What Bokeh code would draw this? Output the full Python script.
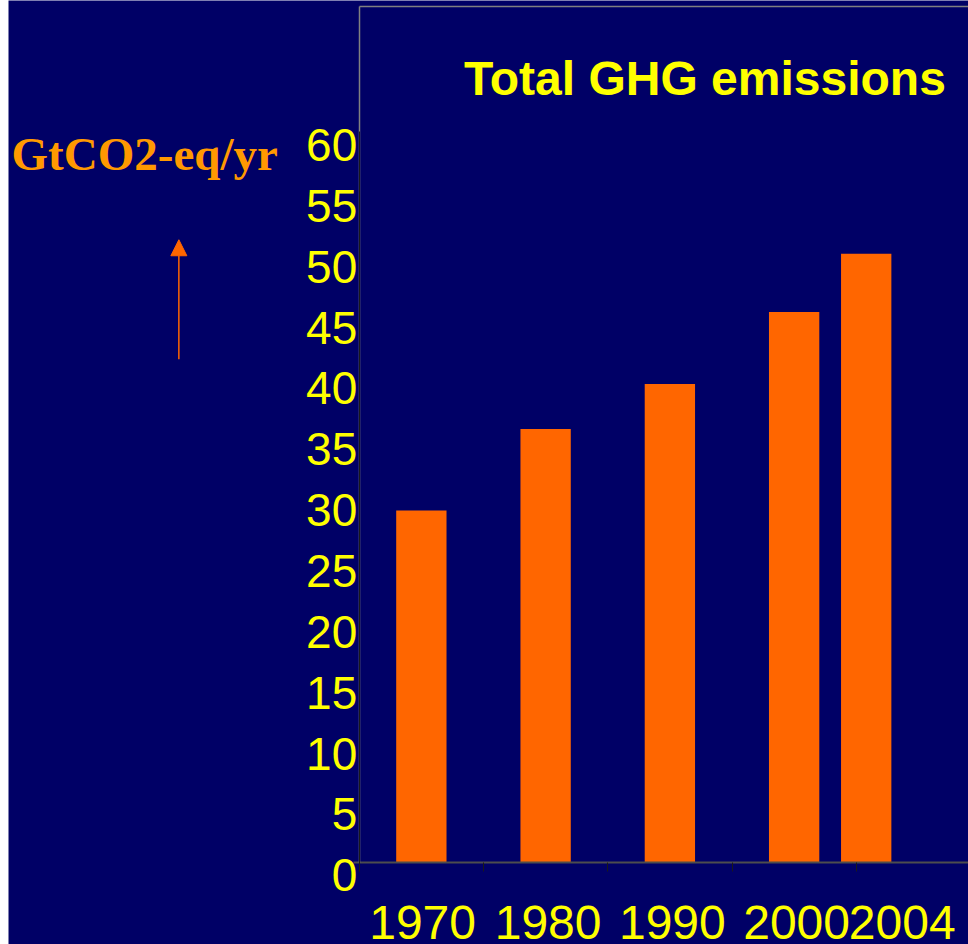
from bokeh.plotting import figure
from bokeh.models import (Range1d, FixedTicker, ColumnDataSource, LabelSet, Label,
                          Arrow, NormalHead, LinearAxis, CustomJSTickFormatter, Spacer)
from bokeh.core.properties import value
from bokeh.layouts import row
from bokeh.embed import file_html
from bokeh.resources import INLINE

# ---- data ----
years = ["1970", "1980", "1990", "2000", "2004"]
emissions = [28.9, 35.6, 39.3, 45.2, 50.0]          # GtCO2-eq/yr
bar_x = [0.5, 1.5, 2.5, 3.5, 4.08]                   # slot positions along the axis
label_x = [0.51, 1.52, 2.52, 3.52, 4.37]             # year label positions
slot_edges = [0, 1, 2, 3, 4]
y_ticks = [0, 5, 10, 15, 20, 25, 30, 35, 40, 45, 50, 55, 60]
y_tick_labels = [str(v) for v in y_ticks]

NAVY = "#000066"
YELLOW = "#FFFF00"
BAR = "#FF6600"
UNIT = "#FF9900"

# ---- geometry (pixels) ----
W, H = 960, 944
PX_X = 124.0        # px per x unit
PX_Y = 12.148       # px per y unit
X0 = 350            # x=0 in figure px
Y0 = 862            # y=0 in figure px
TOP_PAD = 2
RIGHT_PAD = 2
y_top = (Y0 - 8) / PX_Y

x_range = Range1d(-X0 / PX_X, (W - RIGHT_PAD - X0) / PX_X)
y_range = Range1d(-(H - Y0) / PX_Y, (Y0 - TOP_PAD) / PX_Y)

p = figure(width=W, height=H, x_range=x_range, y_range=y_range,
           output_backend="svg", toolbar_location=None,
           x_axis_location=None, y_axis_location=None,
           min_border_left=0, min_border_right=0,
           min_border_top=0, min_border_bottom=0,
           background_fill_color=NAVY, border_fill_color=NAVY,
           outline_line_color=None)
p.grid.visible = False

blank = CustomJSTickFormatter(code="return ''")


def plain_axis(**kw):
    ax = LinearAxis(formatter=blank, major_label_standoff=0,
                    major_label_text_font_size="1px",
                    major_tick_out=0, major_tick_in=0,
                    minor_tick_out=0, minor_tick_in=0,
                    minor_tick_line_color=None, **kw)
    return ax


# gray frame border (top and left)
top_border = plain_axis(ticker=FixedTicker(ticks=[]), fixed_location=y_top,
                        bounds=(0, x_range.end), axis_line_color="#808080",
                        axis_line_width=1.5)
left_border = plain_axis(ticker=FixedTicker(ticks=[]), fixed_location=0,
                         bounds=(0, y_top), axis_line_color="#808080",
                         axis_line_width=1.5)

# x axis at y=0 with boundary ticks pointing down
x_axis = plain_axis(ticker=FixedTicker(ticks=slot_edges), fixed_location=0,
                    bounds=(-0.05, x_range.end), axis_line_color="#4d4d4d",
                    axis_line_width=2, major_tick_line_color="#1a1a1a")
x_axis.major_tick_in = 9

# y axis line 0..60, crossing slightly below the x axis
y_axis = plain_axis(ticker=FixedTicker(ticks=[]), fixed_location=0,
                    bounds=(-0.74, y_ticks[-1]), axis_line_color="#1a1a1a",
                    axis_line_width=1)

p.add_layout(top_border, "above")
p.add_layout(x_axis, "above")
p.add_layout(left_border, "right")
p.add_layout(y_axis, "right")

p.vbar(x=bar_x, top=emissions, bottom=0, width=0.405,
       fill_color=BAR, line_color=None)

ysrc = ColumnDataSource(dict(x=[0] * len(y_ticks), y=y_ticks, t=y_tick_labels))
p.add_layout(LabelSet(x="x", y="y", text="t", source=ysrc,
                      x_offset=-2, y_offset=-29,
                      text_align="right", text_baseline="alphabetic",
                      text_font=value("Liberation Sans"), text_font_size=value("46px"),
                      text_color=YELLOW))

xsrc = ColumnDataSource(dict(x=label_x, y=[0] * len(years), t=years))
p.add_layout(LabelSet(x="x", y="y", text="t", source=xsrc,
                      y_offset=-77,
                      text_align="center", text_baseline="alphabetic",
                      text_font=value("Liberation Sans"), text_font_size=value("48px"),
                      text_color=YELLOW))

p.add_layout(Label(x=2.782, y=63.02, y_offset=17, text="Total GHG emissions",
                   text_align="center", text_baseline="alphabetic",
                   text_font="Liberation Sans", text_font_style="bold",
                   text_font_size="48px", text_color=YELLOW))

p.add_layout(Label(x=-2.798, y=56.82, y_offset=17, text="GtCO2-eq/yr",
                   text_align="left", text_baseline="alphabetic",
                   text_font="Liberation Serif", text_font_style="bold",
                   text_font_size="47px", text_color=UNIT))

p.add_layout(Arrow(x_start=-1.4516, y_start=41.32, x_end=-1.4516, y_end=51.14,
                   line_color=BAR, line_width=1.5,
                   end=NormalHead(size=16, fill_color=BAR, line_color=BAR)))

layout = row(Spacer(width=8, height=H), p)
open("out.html", "w").write(file_html(layout, INLINE))
